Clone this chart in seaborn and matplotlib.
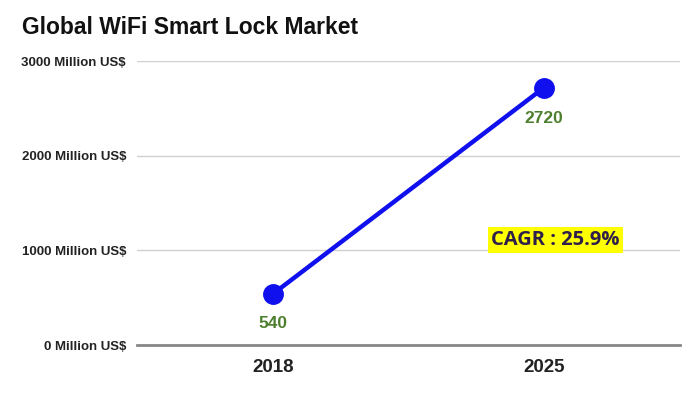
import matplotlib
matplotlib.use("Agg")
import matplotlib.pyplot as plt
import seaborn as sns
import pandas as pd

years = ["2018", "2025"]
values = [540, 2720]
yticks = [0, 1000, 2000, 3000]
ytick_labels = ["0 Million US$", "1000 Million US$", "2000 Million US$", "3000 Million US$"]
title = "Global WiFi Smart Lock Market"
cagr_text = "CAGR : 25.9%"

sns.set_style("white")
plt.rcParams['font.family'] = ['Liberation Sans', 'DejaVu Sans']

df = pd.DataFrame({"year": years, "value": values})

fig = plt.figure(figsize=(7, 3.94), dpi=100)
ax = fig.add_axes([0.196, 0.124, 0.775, 0.721])

sns.pointplot(data=df, x="year", y="value", ax=ax, color="#1010ee",
              markers="o", linestyles="-", errorbar=None)
for line in ax.lines:
    line.set_linewidth(3.2)
    line.set_markersize(13)

ax.set_xlim(-0.5, 1.5)
ax.set_ylim(0, 3000)
ax.set_yticks(yticks)
ax.set_yticklabels(ytick_labels, fontsize=9.5, fontweight="bold", color="#222222")
ax.tick_params(axis="y", length=0, pad=8)
ax.tick_params(axis="x", length=0, pad=10)
for lbl in ax.get_xticklabels():
    lbl.set_fontsize(13.5)
    lbl.set_fontweight("bold")
    lbl.set_color("#222222")
ax.set_xlabel("")
ax.set_ylabel("")
ax.yaxis.grid(True, color="#d0d0d0", linewidth=1)
ax.set_axisbelow(True)
for s in ["top", "right", "left"]:
    ax.spines[s].set_visible(False)
ax.spines["bottom"].set_color("#888888")
ax.spines["bottom"].set_linewidth(2)

# data labels
ax.annotate(str(values[0]), (0, values[0]), xytext=(0, -21.5), textcoords="offset points",
            ha="center", va="center", fontsize=12.5, fontweight="bold", color="#4e7f2e")
ax.annotate(str(values[1]), (1, values[1]), xytext=(0, -22), textcoords="offset points",
            ha="center", va="center", fontsize=12.5, fontweight="bold", color="#4e7f2e")

ax.text(1.043, 1110, cagr_text, fontsize=14.5, fontweight="bold", color="#2d1f4a",
        family=["Open Sans", "DejaVu Sans"], ha="center", va="center",
        bbox=dict(boxstyle="square,pad=0.15", facecolor="#ffff00", edgecolor="none"))

fig.text(0.031, 0.93, title, fontsize=16.5, fontweight="bold", color="#111111",
         ha="left", va="center")

fig.savefig("out.png", dpi=100)
